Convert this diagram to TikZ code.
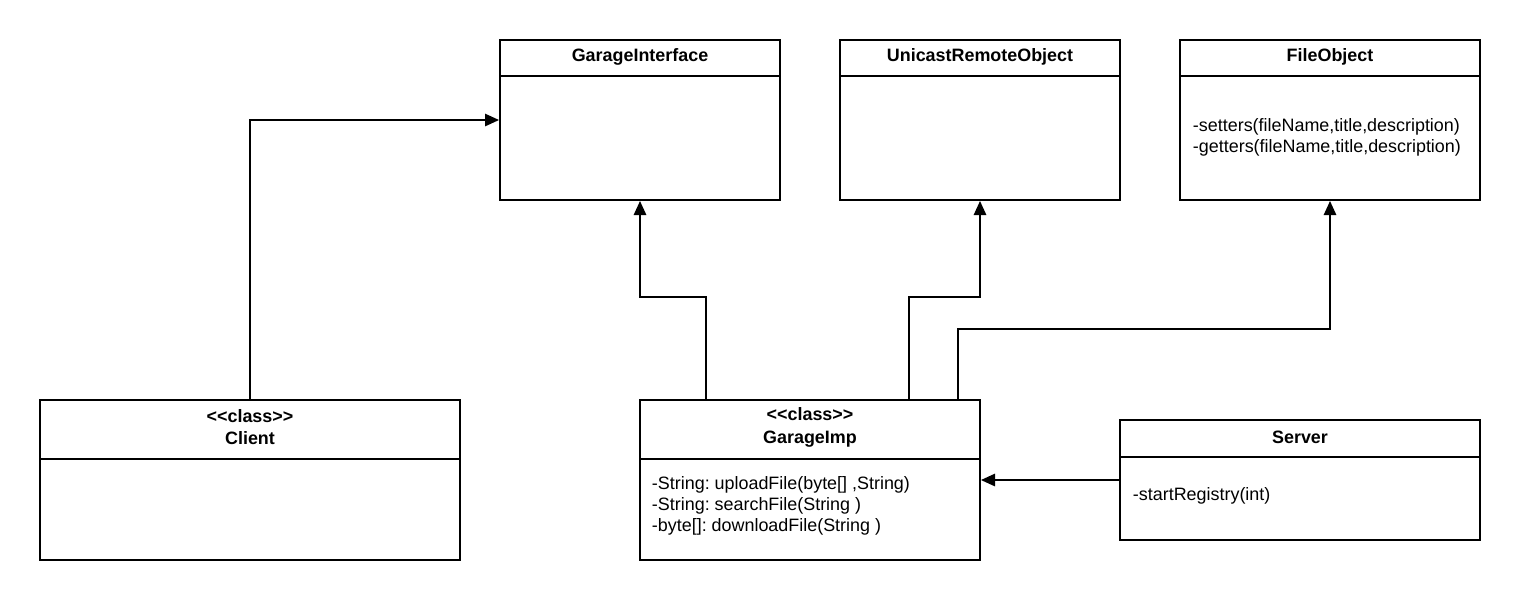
\documentclass[tikz,border=0pt]{standalone}
\usepackage{fontspec}
\setmainfont{Liberation Sans}
\frenchspacing
\usetikzlibrary{arrows.meta,calc}
\begin{document}
\begin{tikzpicture}[x=0.02cm,y=-0.02cm,line width=1.1pt,
  box/.style={draw, rectangle, inner sep=0pt},
  title/.style={font=\fontsize{10.2}{13}\selectfont\bfseries, align=center},
  body/.style={font=\fontsize{10.2}{11.9}\selectfont, align=left, anchor=west, inner sep=0pt},
  arr/.style={-{Triangle[length=8pt,width=7pt]}}]
%% the page is as big as the reference, so everything is placed in pixels
\useasboundingbox (0,0) rectangle (1520,600);
%% the three classes on top
\node[box, minimum width=5.6cm, minimum height=3.2cm] (garageinterface) at (640,120) {};
\draw (garageinterface.north west) ++(0,37) -- ++(280,0);
\node[title] (garageinterfacename) at (640,57) {GarageInterface};
\node[box, minimum width=5.6cm, minimum height=3.2cm] (unicast) at (980,120) {};
\draw (unicast.north west) ++(0,37) -- ++(280,0);
\node[title] (unicastname) at (980,57) {UnicastRemoteObject};
\node[box, minimum width=6cm, minimum height=3.2cm] (fileobject) at (1330,120) {};
\draw (fileobject.north west) ++(0,37) -- ++(300,0);
\node[title] (fileobjectname) at (1330,57) {FileObject};
\node[body] (fileobjectops) at (1192,137) {-setters(fileName,title,description)\\-getters(fileName,title,description)};
%% the classes at the bottom
\node[box, minimum width=8.4cm, minimum height=3.2cm] (client) at (250,480) {};
\draw (client.north west) ++(0,60) -- ++(420,0);
\node[title] (clientname) at (250,427) {<{}<class>{}>\\Client};
\node[box, minimum width=6.8cm, minimum height=3.2cm] (garageimp) at (810,480) {};
\draw (garageimp.north west) ++(0,60) -- ++(340,0);
\node[title] (garageimpname) at (810,427) {<{}<class>{}>\\GarageImp};
\node[body] (garageimpops) at (651,506) {-String: uploadFile(byte[] ,String)\\-String: searchFile(String )\\-byte[]: downloadFile(String )};
\node[box, minimum width=7.2cm, minimum height=2.4cm] (server) at (1300,480) {};
\draw (server.north west) ++(0,38) -- ++(360,0);
\node[title] (servername) at (1300,437) {Server};
\node[body] (serverops) at (1132,496) {-startRegistry(int)};
%% the arrows
\draw[arr] (client.north) |- (garageinterface.west);
\draw[arr] ($(garageimp.north west)+(67,0)$) -- ++(0,-102) -| (garageinterface.south);
\draw[arr] ($(garageimp.north west)+(270,0)$) -- ++(0,-102) -| (unicast.south);
\draw[arr] ($(garageimp.north west)+(319,0)$) -- ++(0,-70) -| (fileobject.south);
\draw[arr] (server.west) -- (garageimp.east);
\end{tikzpicture}
\end{document}
